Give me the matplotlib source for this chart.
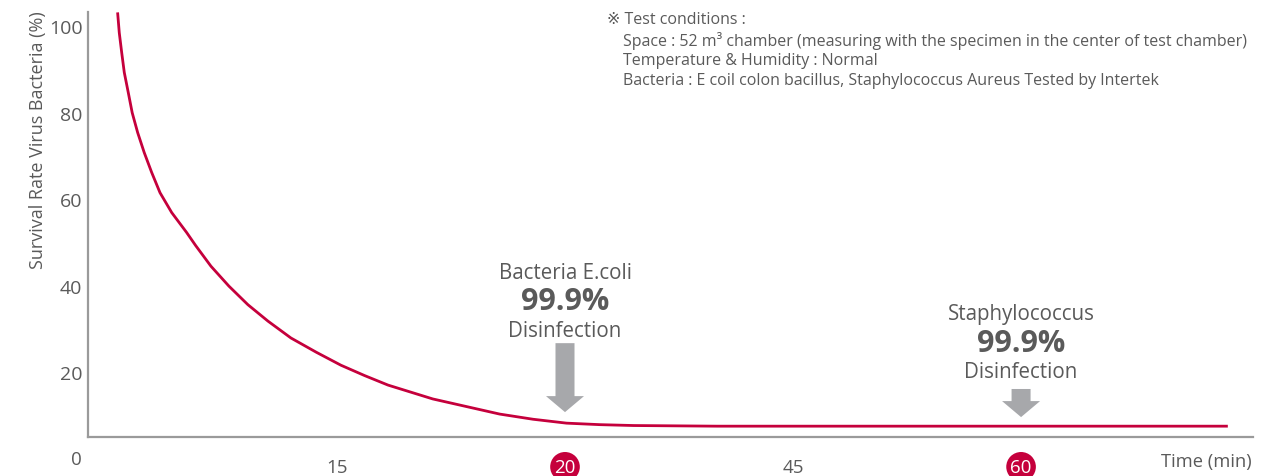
import matplotlib.pyplot as plt
from matplotlib.patches import FancyArrow

# curve (minutes on a 15-per-step axis, survival %)
time_min = [0.57, 0.68, 0.84, 1.01, 1.27, 1.53, 1.89, 2.32, 2.81, 3.36, 4.13, 5.11, 5.7,
            6.71, 7.89, 9.14, 10.46, 11.97, 13.64, 15.26, 16.82, 18.36, 21.3, 25.7, 27.9,
            30.1, 32.3, 34.5, 40.0, 50.0, 60.0, 73.6]
survival = [103.2, 98.5, 93.9, 89.3, 84.7, 80.0, 75.4, 70.8, 66.2, 61.5, 56.9, 52.3, 49.3,
            44.5, 39.9, 35.6, 31.8, 27.9, 24.6, 21.6, 19.2, 17.0, 13.8, 10.3, 9.1,
            8.2, 7.85, 7.65, 7.5, 7.5, 7.5, 7.5]

xtick_pos = [15, 30, 45, 60]
xtick_labels = ['15', '20', '45', '60']
highlight = ['20', '60']
ytick_vals = [20, 40, 60, 80, 100]

notes = [('Bacteria E.coli', 30), ('Staphylococcus', 60)]
conditions = ['\u203b Test conditions :',
              'Space : 52 m\u00b3 chamber (measuring with the specimen in the center of test chamber)',
              'Temperature & Humidity : Normal',
              'Bacteria : E coil colon bacillus, Staphylococcus Aureus Tested by Intertek']

red = '#c5003c'
grey_txt = '#5a5a5a'
grey_ax = '#9a9a9a'
arrow_col = '#a7a8ab'
fam = ['Open Sans', 'DejaVu Sans', 'Noto Sans CJK JP']
plt.rcParams['font.family'] = fam

fig = plt.figure(figsize=(12.84, 4.77), dpi=100)
ax = fig.add_axes([0.0685, 0.0818, 0.9074, 0.891])

ax.plot(time_min, survival, color=red, lw=2, solid_capstyle='butt', solid_joinstyle='round',
        clip_on=False)

ax.set_xlim(-1.38, 75.26)
ax.set_ylim(5, 103.3)
for s in ['top', 'right']:
    ax.spines[s].set_visible(False)
for s in ['left', 'bottom']:
    ax.spines[s].set_color(grey_ax)
    ax.spines[s].set_linewidth(1.6)

ax.set_yticks(ytick_vals)
ax.set_yticklabels([str(v) for v in ytick_vals])
ax.tick_params(axis='y', length=0, pad=4, labelsize=14, labelcolor=grey_txt)
ax.set_xticks(xtick_pos)
ax.set_xticklabels(xtick_labels)
ax.tick_params(axis='x', length=0, pad=15, labelsize=13.5, labelcolor=grey_txt)
for lab in ax.get_xticklabels():
    if lab.get_text() in highlight:
        lab.set_color('white')
        lab.set_bbox(dict(boxstyle='circle,pad=0.22', fc=red, ec='none'))

# annotation blocks
ax.text(notes[0][1], 43.1, notes[0][0], ha='center', va='center', fontsize=14.8, color=grey_txt)
ax.text(notes[0][1], 36.4, '99.9%', ha='center', va='center', fontsize=22, fontweight='bold', color=grey_txt)
ax.text(notes[0][1], 29.7, 'Disinfection', ha='center', va='center', fontsize=14.8, color=grey_txt)
ax.add_patch(FancyArrow(notes[0][1], 26.7, 0, -15.95, width=1.25, head_width=2.5, head_length=3.7,
                        length_includes_head=True, fc=arrow_col, ec='none'))

ax.text(notes[1][1], 33.6, notes[1][0], ha='center', va='center', fontsize=14.8, color=grey_txt)
ax.text(notes[1][1], 26.7, '99.9%', ha='center', va='center', fontsize=22, fontweight='bold', color=grey_txt)
ax.text(notes[1][1], 20.2, 'Disinfection', ha='center', va='center', fontsize=14.8, color=grey_txt)
ax.add_patch(FancyArrow(notes[1][1], 16.1, 0, -6.5, width=1.25, head_width=2.5, head_length=3.7,
                        length_includes_head=True, fc=arrow_col, ec='none'))

W, H = 1284.0, 477.0
fig.text(38 / W, 1 - 140 / H, 'Survival Rate Virus Bacteria (%)', rotation=90,
         ha='center', va='center', fontsize=13, color=grey_txt)
fig.text(76 / W, 1 - 460 / H, '0', ha='center', va='center', fontsize=13.5, color=grey_txt)
fig.text(1252 / W, 1 - 462 / H, 'Time (min)', ha='right', va='center', fontsize=13.2, color=grey_txt)

ys = [20, 41, 61, 81]
for i, line in enumerate(conditions):
    x0 = 607 if i == 0 else 623
    fig.text(x0 / W, 1 - ys[i] / H, line, ha='left', va='center', fontsize=11.5, color=grey_txt)

fig.savefig('out.png', dpi=100)
